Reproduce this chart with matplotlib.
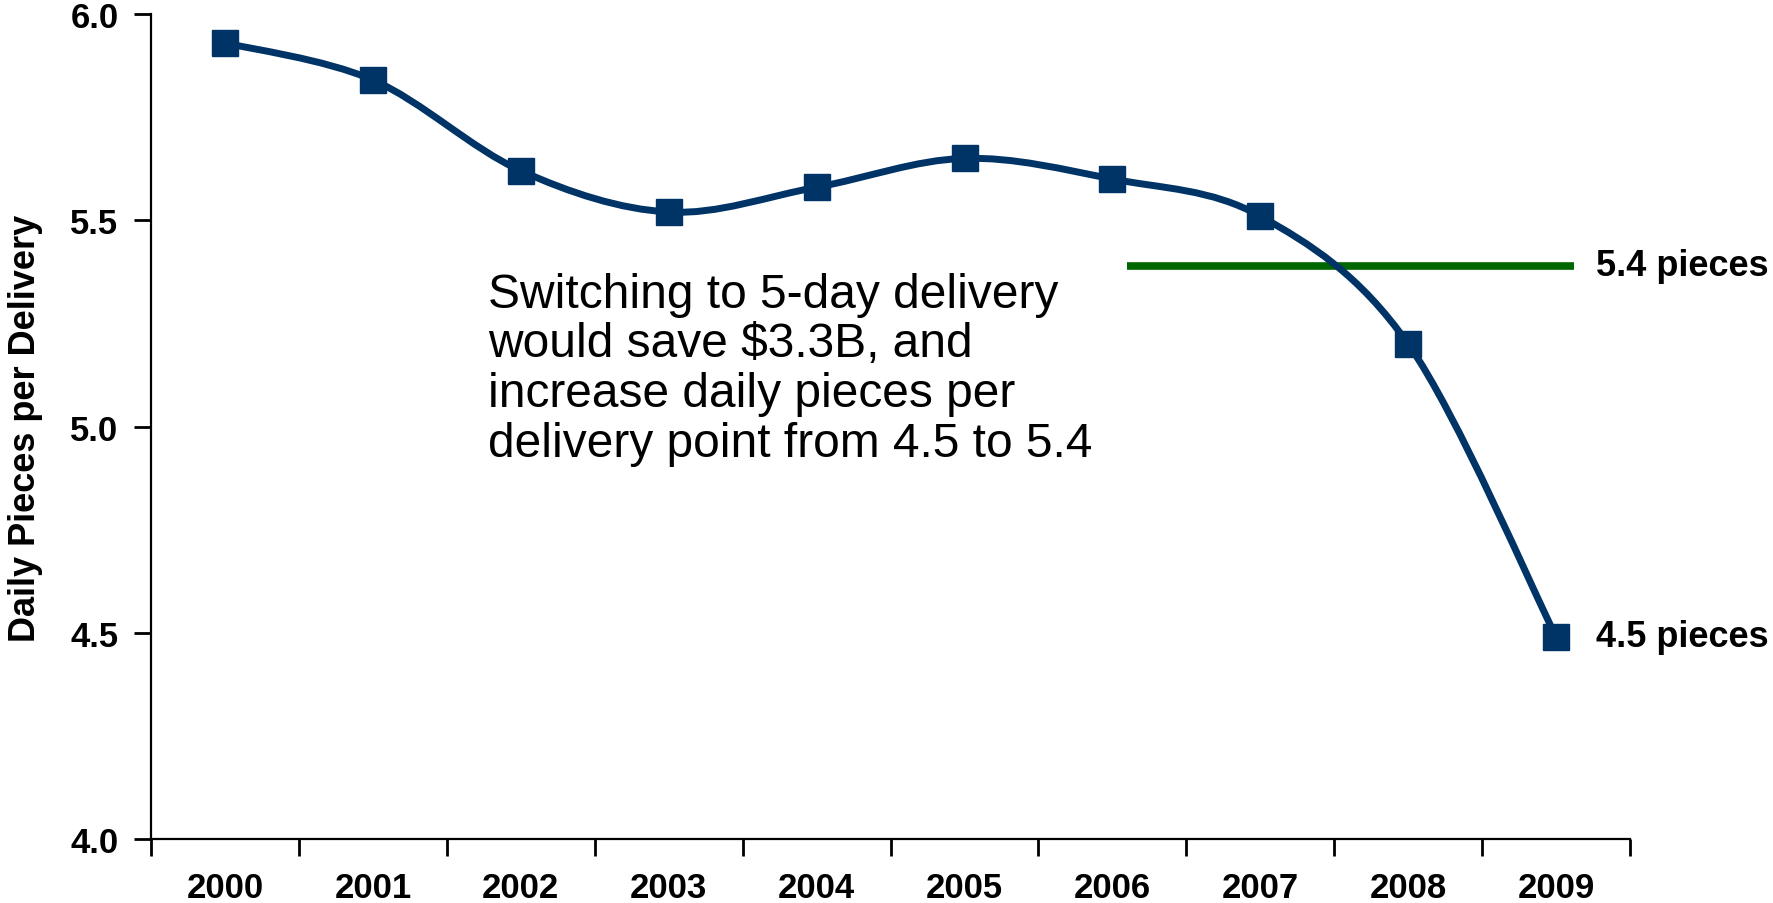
import numpy as np
import matplotlib
matplotlib.use("Agg")
import matplotlib.pyplot as plt
from matplotlib.path import Path
from matplotlib.patches import PathPatch

plt.rcParams['font.family'] = ['Liberation Sans', 'DejaVu Sans']

# data
years = ['2000', '2001', '2002', '2003', '2004', '2005', '2006', '2007', '2008', '2009']
pieces = [5.93, 5.84, 5.62, 5.52, 5.58, 5.65, 5.60, 5.51, 5.20, 4.49]
target = 5.39
target_span = [6.1, 9.12]   # in category units
note = ("Switching to 5-day delivery\nwould save $3.3B, and\n"
        "increase daily pieces per\ndelivery point from 4.5 to 5.4")

navy = '#003366'
green = '#006600'


def smooth_path(x, y):
    # excel style smoothed line: cubic bezier segments through the points
    pts = np.column_stack([x, y]).astype(float)
    n = len(pts)
    verts = [pts[0]]
    codes = [Path.MOVETO]
    for i in range(n - 1):
        p0 = pts[i - 1] if i > 0 else pts[i]
        p1 = pts[i]
        p2 = pts[i + 1]
        p3 = pts[i + 2] if i + 2 < n else pts[i + 1]
        c1 = p1 + (p2 - p0) / 6.0
        c2 = p2 - (p3 - p1) / 6.0
        verts += [c1, c2, p2]
        codes += [Path.CURVE4] * 3
    return Path(verts, codes)


fig = plt.figure(figsize=(17.73, 9.04), dpi=100)
ax = fig.add_axes([0.0852, 0.0708, 0.8342, 0.9126])

xs = np.arange(len(years))
ax.add_patch(PathPatch(smooth_path(xs, pieces), facecolor='none',
                       edgecolor=navy, lw=5, capstyle='round', joinstyle='round', zorder=3))
ax.plot(xs, pieces, linestyle='none', marker='s', markersize=19,
        color=navy, zorder=4)

ax.plot(target_span, [target, target], color=green, lw=5.5, zorder=2,
        solid_capstyle='butt')

ax.text(9.27, target, '5.4 pieces', fontsize=26, fontweight='bold',
        va='center', ha='left', clip_on=False)
ax.text(9.27, pieces[-1], '4.5 pieces', fontsize=26, fontweight='bold',
        va='center', ha='left', clip_on=False)

ax.text(1.78, 5.14, note, fontsize=34.5, va='center', ha='left',
        linespacing=1.13)

ax.set_xlim(-0.5, 9.5)
ax.set_ylim(4.0, 6.0)
ax.set_yticks([4.0, 4.5, 5.0, 5.5, 6.0])
ax.set_yticklabels(['4.0', '4.5', '5.0', '5.5', '6.0'])

ax.set_xticks(np.arange(-0.5, 10, 1.0))
ax.set_xticklabels([])
ax.set_xticks(xs, minor=True)
ax.set_xticklabels(years, minor=True)

ax.tick_params(axis='y', which='major', length=12, width=2, direction='out',
               labelsize=25, pad=11.5)
ax.tick_params(axis='x', which='major', length=12, width=2, direction='out')
ax.tick_params(axis='x', which='minor', length=0, labelsize=25, pad=23)
for lab in ax.get_yticklabels() + ax.get_xticklabels(minor=True):
    lab.set_fontweight('bold')

for s in ['top', 'right']:
    ax.spines[s].set_visible(False)
for s in ['left', 'bottom']:
    ax.spines[s].set_linewidth(1.6)

fig.text(26 / 1773, 1 - 428 / 904, 'Daily Pieces per Delivery', rotation=90,
         fontsize=26, fontweight='bold', va='center', ha='center')

fig.savefig('out.png', dpi=100)
